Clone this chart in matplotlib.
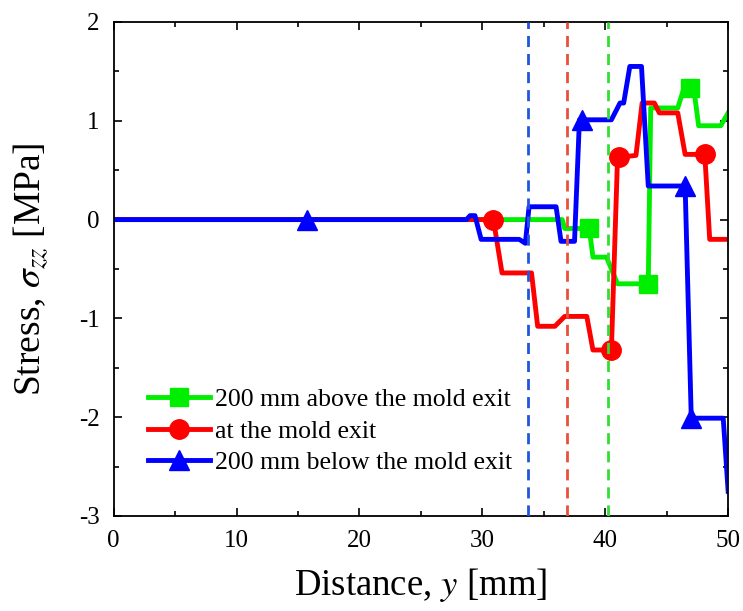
import matplotlib
matplotlib.use("Agg")
import matplotlib.pyplot as plt
from matplotlib.ticker import MultipleLocator

plt.rcParams['font.family'] = 'Liberation Serif'
plt.rcParams['mathtext.fontset'] = 'stix'
plt.rcParams['axes.unicode_minus'] = False

# stress profiles along the distance (mm, MPa)
x_above = [0, 36.5, 36.7, 38.7, 39.0, 40.1, 41.0, 43.5, 43.7, 45.9, 46.4, 46.9, 47.2, 47.6, 49.4, 50.0]
y_above = [0, 0, -0.09, -0.09, -0.38, -0.38, -0.65, -0.65, 1.13, 1.13, 1.33, 1.33, 1.33, 0.95, 0.95, 1.08]
mark_above = [3, 7, 11]

x_exit = [0, 30.9, 31.6, 34.0, 34.5, 35.9, 36.7, 38.5, 39.0, 40.5, 41.0, 41.1, 42.5, 43.0, 44.0, 44.4,
          45.9, 46.5, 48.1, 48.5, 50.0]
y_exit = [0, 0, -0.54, -0.54, -1.08, -1.08, -0.98, -0.98, -1.32, -1.32, 0.63, 0.63, 0.65, 1.18, 1.18, 1.08,
          1.08, 0.66, 0.66, -0.2, -0.2]
mark_exit = [1, 9, 11, 18]

x_below = [0, 15.7, 28.7, 29.0, 29.4, 29.9, 33.0, 33.5, 33.8, 36.0, 36.4, 37.5, 37.9, 38.1, 40.5, 41.2,
           41.5, 42.0, 42.95, 43.5, 46.5, 47.0, 49.6, 50.0]
y_below = [0, 0, 0, 0.04, 0.04, -0.2, -0.2, -0.24, 0.13, 0.13, -0.22, -0.22, 1.01, 1.01, 1.01, 1.18,
           1.18, 1.55, 1.55, 0.34, 0.34, -2.01, -2.01, -2.75]
mark_below = [1, 13, 20, 21]

# mold exit positions for each case
exit_pos = [33.7, 36.9, 40.2]
exit_colors = ['#2255dd', '#e8503a', '#33dd33']

labels = ['200 mm above the mold exit', 'at the mold exit', '200 mm below the mold exit']

fig = plt.figure(figsize=(7.43, 6.11), dpi=100)
ax = fig.add_axes([0.153, 0.1555, 0.827, 0.8085])

ax.plot(x_above, y_above, color='#00ee00', lw=3.5, marker='s', ms=13, markevery=mark_above, label=labels[0])
ax.plot(x_exit, y_exit, color='#ff0000', lw=3.5, marker='o', ms=14, markevery=mark_exit, label=labels[1])
ax.plot(x_below, y_below, color='#0000ff', lw=3.5, marker='^', ms=14, markevery=mark_below, label=labels[2])

for xp, c in zip(exit_pos, exit_colors):
    ax.axvline(xp, color=c, lw=2, ls=(0, (4, 2.5)), zorder=5)

ax.set_xlim(0, 50)
ax.set_ylim(-3, 2)
ax.xaxis.set_major_locator(MultipleLocator(10))
ax.xaxis.set_minor_locator(MultipleLocator(5))
ax.yaxis.set_major_locator(MultipleLocator(1))
ax.yaxis.set_minor_locator(MultipleLocator(0.5))
ax.tick_params(which='both', direction='in', top=True, right=True, labelsize=18, pad=10, width=1.2)
ax.tick_params(which='major', length=6)
ax.tick_params(which='minor', length=3.5)
for s in ax.spines.values():
    s.set_linewidth(1.3)

ax.set_xlabel('Distance, $y$ [mm]', fontsize=26.5, labelpad=10)
ax.set_ylabel(r'Stress, $\sigma_{zz}$ [MPa]', fontsize=27)
ax.yaxis.set_label_coords(-0.102, 0.5)

ax.legend(loc='center left', bbox_to_anchor=(0.056, 0.172), frameon=False, fontsize=18.5,
          handlelength=2.4, handletextpad=0.2, labelspacing=0.32, borderpad=0, borderaxespad=0,
          numpoints=1)

fig.savefig('out.png', dpi=100)
